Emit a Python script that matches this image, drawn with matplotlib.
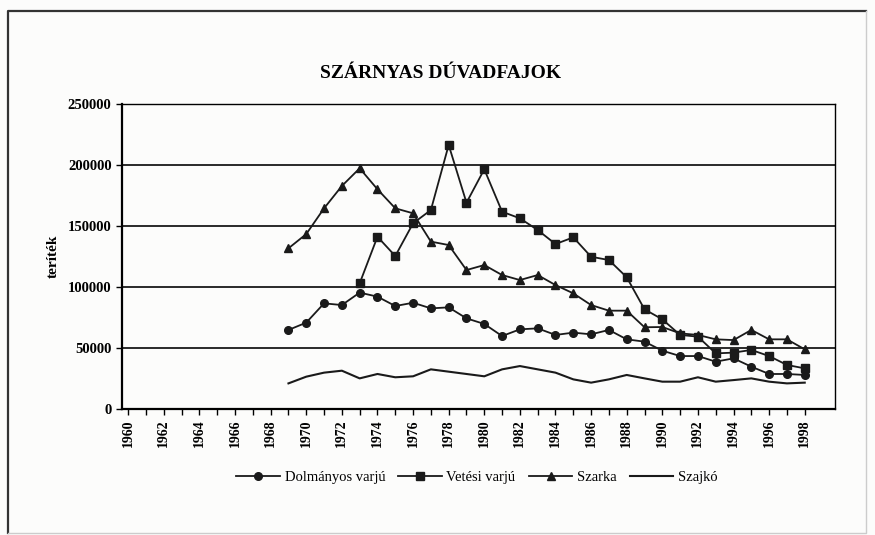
import matplotlib
matplotlib.use('Agg')
import matplotlib.pyplot as plt
from matplotlib.lines import Line2D

years_all = list(range(1960, 1999))
years = list(range(1969, 1999))

dolmanyos = [64800, 70800, 86600, 85200, 95400, 92100, 84400, 87100, 82500, 83300,
             74300, 69700, 59800, 65300, 66100, 60700, 62600, 61200, 64800, 57100,
             55200, 47800, 43400, 43400, 38800, 41500, 34700, 28700, 28700, 27900]
vetesi_years = list(range(1973, 1999))
vetesi = [103000, 141200, 125400, 152200, 163100, 216400, 169100, 196500, 161700,
          156300, 146700, 135200, 140700, 124800, 122100, 108000, 81700, 73500,
          60700, 59300, 45600, 46200, 48400, 43400, 36100, 33300]
szarka = [131700, 143400, 164500, 182800, 197300, 180100, 164500, 160400, 137200, 134400,
          113900, 118000, 109800, 105700, 109800, 101600, 94800, 85200, 80600, 80600,
          67000, 67200, 62000, 60700, 57100, 56500, 64800, 57100, 57100, 48900]
szajko = [21000, 26500, 29800, 31400, 25100, 28700, 26000, 26800, 32500, 30600,
          28700, 26800, 32500, 35200, 32500, 29800, 24300, 21600, 24300, 27900,
          25100, 22400, 22400, 26000, 22400, 23700, 25100, 22400, 21000, 21600]

plt.rcParams['font.family'] = ['Liberation Serif', 'DejaVu Serif']

fig = plt.figure(figsize=(8.75, 5.35), dpi=100)
fig.patch.set_facecolor('#fcfcfb')

# frame round the chart: dark top and left, faint right and bottom
fig.lines.append(Line2D([8 / 875, 8 / 875, 866 / 875], [2 / 535, 524 / 535, 524 / 535],
                        transform=fig.transFigure, color='#333333', lw=1.6))
fig.lines.append(Line2D([866 / 875, 866 / 875, 8 / 875], [524 / 535, 2 / 535, 2 / 535],
                        transform=fig.transFigure, color='#cccccc', lw=1.0))

ax = fig.add_axes([122 / 875, 126 / 535, 713 / 875, 305 / 535])
ax.set_facecolor('#fcfcfb')

ax.plot(years, dolmanyos, color='#1a1a1a', lw=1.3, marker='o', ms=5.5, label='Dolmányos varjú')
ax.plot(vetesi_years, vetesi, color='#1a1a1a', lw=1.3, marker='s', ms=6, label='Vetési varjú')
ax.plot(years, szarka, color='#1a1a1a', lw=1.3, marker='^', ms=6, label='Szarka')
ax.plot(years, szajko, color='#1a1a1a', lw=1.5, label='Szajkó')

ax.set_xlim(1959.65, 1999.7)
ax.set_ylim(0, 250000)
ax.set_yticks(range(0, 250001, 50000))
ax.set_yticklabels([str(v) for v in range(0, 250001, 50000)], fontsize=10.5, fontweight='bold')
ax.set_xticks(years_all[::2])
ax.set_xticklabels([str(y) for y in years_all[::2]], rotation=90, fontsize=10, fontweight='bold')
ax.set_xticks(years_all, minor=True)
ax.tick_params(axis='x', which='both', direction='out', length=4, width=1)
ax.tick_params(axis='y', direction='out', length=4, width=1)

ax.grid(axis='y', color='#1a1a1a', linewidth=1.3)
ax.set_axisbelow(True)
for side in ['left', 'bottom']:
    ax.spines[side].set_linewidth(1.6)
for side in ['top', 'right']:
    ax.spines[side].set_linewidth(1.0)

ax.set_ylabel('teríték', fontsize=11, fontweight='bold', labelpad=6)
fig.text(0.503, 0.862, 'SZÁRNYAS DÚVADFAJOK', ha='center', va='center',
         fontsize=14, fontweight='bold')

fig.legend(loc='center', bbox_to_anchor=(0.545, 0.107), ncol=4, frameon=False,
           fontsize=10.5, handlelength=3.0, columnspacing=0.9, handletextpad=0.3)

plt.savefig('out.png', dpi=100, facecolor=fig.get_facecolor())
